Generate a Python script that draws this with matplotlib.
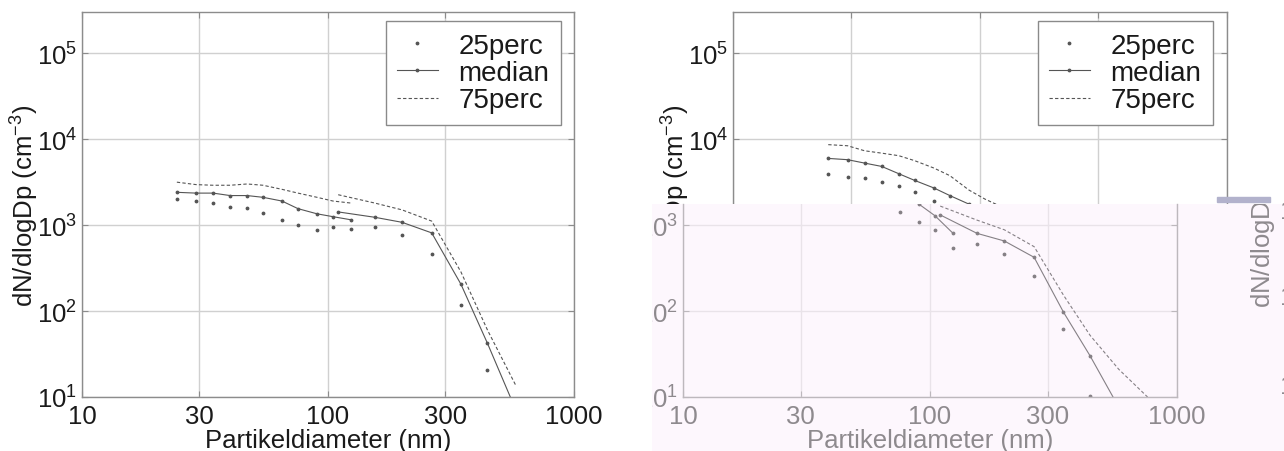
import numpy as np
import matplotlib.pyplot as plt
from matplotlib.patches import Rectangle
from matplotlib.ticker import NullLocator

plt.rcParams['font.family'] = ['Liberation Sans', 'DejaVu Sans']
plt.rcParams['mathtext.default'] = 'regular'

W, H = 1284, 452

# -------- size channels (nm) --------
dp_smps = [24.3, 29.1, 34.1, 40.0, 46.9, 54.4, 65.0, 75.5, 90.2, 104.8, 124.0]
dp_opc = [110, 155, 200, 264, 347, 445, 581, 760]

# -------- panel a (left) --------
a_p25_smps = [2000, 1900, 1800, 1630, 1560, 1370, 1140, 1000, 875, 950, 900]
a_med_smps = [2400, 2350, 2350, 2200, 2200, 2100, 1900, 1550, 1350, 1250, 1150]
a_p75_smps = [3150, 2950, 2900, 2900, 3000, 2900, 2600, 2350, 2100, 1900, 1800]
a_p25_opc = [np.nan, 955, 765, 455, 118, 20.5]
a_med_opc = [1420, 1230, 1075, 810, 205, 42, 7]
a_p75_opc = [2250, 1800, 1500, 1110, 285, 60, 13.5]

# -------- panel b (right) --------
b_p25_smps = [3900, 3650, 3550, 3200, 2850, 2450, 1900, 1420, 1100, 900, 770]
b_med_smps = [5950, 5750, 5250, 4800, 3950, 3300, 2700, 2200, 1750, 1420, 1150]
b_p75_smps = [8600, 8350, 7300, 6850, 6400, 5600, 4600, 3750, 2550, 2000, 1600]

# -------- panel c (pasted on top of b) --------
c_dp_smps = [75.5, 90.2, 104.8, 124.0]
c_p25_smps = [1420, 1080, 875, 535]
c_med_smps = [2300, 1750, 1280, 800]
c_p25_opc = [np.nan, 600, 460, 257, 62, 10.4]
c_med_opc = [1310, 800, 652, 421, 97, 30, 7.6]
c_p75_opc = [1660, 1140, 880, 560, 153, 52, 21, 10]

XTICKS = [10, 30, 100, 300, 1000]
YTICKS = [10, 100, 1000, 1e4, 1e5]
YLIM = (10, 3e5)
FS = 18.5
FS_LEG = 20

PINK = '#fdf7fd'


def px_rect(x0, y0, x1, y1):
    return [x0 / W, 1 - y1 / H, (x1 - x0) / W, (y1 - y0) / H]


def style_axes(ax, ylim, txt, spine, grid):
    ax.set_xscale('log')
    ax.set_yscale('log')
    ax.set_xlim(10, 1000)
    ax.set_ylim(*ylim)
    ax.set_xticks(XTICKS)
    ax.set_xticklabels([str(t) for t in XTICKS])
    yt = [t for t in YTICKS if ylim[0] <= t <= ylim[1]]
    ax.set_yticks(yt)
    ax.set_yticklabels([r'$10^{%d}$' % round(np.log10(t)) for t in yt])
    ax.xaxis.set_minor_locator(NullLocator())
    ax.yaxis.set_minor_locator(NullLocator())
    ax.grid(True, color=grid, lw=1.0)
    ax.set_axisbelow(True)
    ax.tick_params(direction='in', length=4, width=0.8, top=True, right=True,
                   color=spine, labelcolor=txt, labelsize=FS)
    ax.tick_params(axis='x', pad=5)
    ax.tick_params(axis='y', pad=3.5)
    for s in ax.spines.values():
        s.set_color(spine)
        s.set_linewidth(1.0)
    ax.set_xlabel('Partikeldiameter (nm)', fontsize=FS, color=txt, labelpad=0)
    ax.set_ylabel('dN/dlogDp (cm$^{-3}$)', fontsize=FS, color=txt, labelpad=-3)


def draw_series(ax, dp_a, p25a, meda, p75a, dp_b, p25b, medb, p75b, col, label=True):
    kw = dict(color=col, lw=0.8)
    if p25a is not None:
        ax.plot(dp_a[-len(p25a):], p25a, ls='none', marker='.', ms=3.5, label='25perc' if label else None, **kw)
        ax.plot(dp_a[-len(meda):], meda, ls='-', marker='.', ms=3.5, label='median' if label else None, **kw)
    if p75a is not None:
        ax.plot(dp_a[-len(p75a):], p75a, ls=(0, (3, 2)), label='75perc' if label else None, **kw)
    if p25b is not None:
        ax.plot(dp_b[:len(p25b)], p25b, ls='none', marker='.', ms=3.5, **kw)
        ax.plot(dp_b[:len(medb)], medb, ls='-', marker='.', ms=3.5, **kw)
        ax.plot(dp_b[:len(p75b)], p75b, ls=(0, (3, 2)), **kw)


def add_legend(ax, right_px, top_px):
    leg = ax.legend(loc='upper right', bbox_to_anchor=(right_px / W, 1 - top_px / H),
                    bbox_transform=fig.transFigure, borderaxespad=0, fancybox=False,
                    edgecolor='#8a8a8a', framealpha=1, fontsize=FS_LEG, numpoints=1,
                    handlelength=1.45, handletextpad=0.75, labelspacing=0.05,
                    borderpad=0.42)
    leg.get_frame().set_linewidth(1.0)
    for t in leg.get_texts():
        t.set_color('#1a1a1a')
    return leg


fig = plt.figure(figsize=(W / 100, H / 100), dpi=100)

TXT, SPN, GRD, LN = '#1a1a1a', '#8c8c8c', '#d0d0d0', '#555555'

# left panel
ax_l = fig.add_axes(px_rect(82, 13, 574, 398))
style_axes(ax_l, YLIM, TXT, SPN, GRD)
draw_series(ax_l, dp_smps, a_p25_smps, a_med_smps, a_p75_smps,
            dp_opc, a_p25_opc, a_med_opc, a_p75_opc, LN)
add_legend(ax_l, 561, 22)

# right panel (lower part covered)
ax_r = fig.add_axes(px_rect(733, 13, 1227, 398))
style_axes(ax_r, YLIM, TXT, SPN, GRD)
draw_series(ax_r, dp_smps, b_p25_smps, b_med_smps, b_p75_smps,
            dp_opc, None, None, None, LN)
add_legend(ax_r, 1213, 22)

# pasted strip over the lower right
bg = fig.add_axes(px_rect(652, 205, W, H), zorder=5)
bg.set_facecolor(PINK)
bg.set_xticks([])
bg.set_yticks([])
for s in bg.spines.values():
    s.set_visible(False)

OTXT, OSPN, OGRD, OLN = '#8e8a8e', '#bdb8bd', '#e9e3e9', '#858085'
top_log = 1 + (398 - 205) / (398 - 13) * np.log10(YLIM[1] / YLIM[0])
ax_o = fig.add_axes(px_rect(683, 205, 1177, 398), zorder=6)
ax_o.set_facecolor(PINK)
style_axes(ax_o, (10, 10 ** top_log), OTXT, OSPN, OGRD)
ax_o.set_ylabel('')
ax_o.spines['top'].set_visible(False)
ax_o.tick_params(top=False)
for tk in ax_o.yaxis.get_major_ticks():
    tk.label1.set_clip_on(True)
    tk.label1.set_clip_box(bg.bbox)
draw_series(ax_o, c_dp_smps, c_p25_smps, c_med_smps, None,
            dp_opc, c_p25_opc, c_med_opc, c_p75_opc, OLN, label=False)

# y label and tick digits of the next panel, cut at the edge
t = fig.text(1263 / W, 1 - 207 / H, 'dN/dlogDp (cm$^{-3}$)', rotation=90,
             ha='center', va='center', fontsize=FS, color=OTXT, zorder=7)
t.set_clip_on(True)
t.set_clip_box(bg.bbox)
for yv, e in ((212, 3), (298, 2), (387, 1)):
    fig.text(1279 / W, 1 - yv / H, r'$10^{%d}$' % e, ha='left', va='center',
             fontsize=FS, color=OTXT, zorder=7)

fig.patches.append(Rectangle((1217 / W, 1 - 203 / H), 53 / W, 5 / H,
                             transform=fig.transFigure, color='#b2b2cc',
                             zorder=8))

fig.savefig('out.png', dpi=100)
